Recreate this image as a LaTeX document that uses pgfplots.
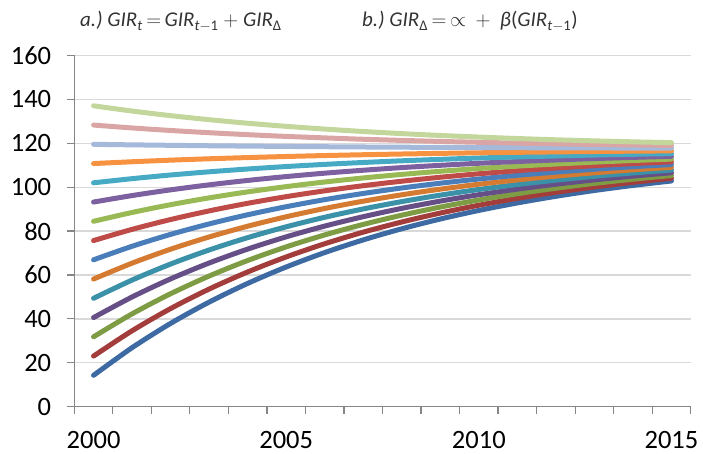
\documentclass[border=0pt]{standalone}
\usepackage{pgfplots}
\usepackage{pgfplotstable}
\pgfplotsset{compat=1.18}
\usepackage{fontspec}
\setmainfont{Carlito}

\definecolor{c1}{HTML}{3D6AA3}
\definecolor{c2}{HTML}{A33D3B}
\definecolor{c3}{HTML}{7E9C44}
\definecolor{c4}{HTML}{664E86}
\definecolor{c5}{HTML}{3A91A8}
\definecolor{c6}{HTML}{D57A31}
\definecolor{c7}{HTML}{4A7EBB}
\definecolor{c8}{HTML}{BE4B48}
\definecolor{c9}{HTML}{98B954}
\definecolor{c10}{HTML}{7D60A0}
\definecolor{c11}{HTML}{46AAC5}
\definecolor{c12}{HTML}{F69240}
\definecolor{c13}{HTML}{A5B9DA}
\definecolor{c14}{HTML}{D9A6A5}
\definecolor{c15}{HTML}{C3D69B}
\definecolor{gridc}{HTML}{D9D9D9}
\definecolor{axisc}{HTML}{868686}

\pgfplotstableread{
year s1 s2 s3 s4 s5 s6 s7 s8 s9 s10 s11 s12 s13 s14 s15
2000 14.30 23.07 31.84 40.61 49.38 58.15 66.92 75.69 84.46 93.23 102.00 110.77 119.54 128.31 137.08
2001 26.89 34.59 42.29 49.99 57.69 65.39 73.09 80.79 88.49 96.19 103.89 111.59 119.29 126.99 134.69
2002 37.95 44.71 51.47 58.23 64.99 71.75 78.51 85.27 92.03 98.79 105.56 112.32 119.08 125.84 132.60
2003 47.65 53.59 59.52 65.46 71.40 77.33 83.27 89.20 95.14 101.08 107.01 112.95 118.88 124.82 130.76
2004 56.17 61.38 66.60 71.81 77.02 82.23 87.44 92.66 97.87 103.08 108.29 113.50 118.72 123.93 129.14
2005 63.65 68.23 72.81 77.38 81.96 86.53 91.11 95.69 100.26 104.84 109.41 113.99 118.57 123.14 127.72
2006 70.22 74.24 78.26 82.28 86.30 90.31 94.33 98.35 102.37 106.39 110.40 114.42 118.44 122.46 126.48
2007 75.99 79.52 83.05 86.57 90.10 93.63 97.15 100.68 104.21 107.73 111.26 114.79 118.32 121.84 125.37
2008 81.06 84.15 87.25 90.35 93.44 96.54 99.64 102.73 105.83 108.93 112.03 115.12 118.22 121.32 124.41
2009 85.50 88.22 90.94 93.66 96.38 99.10 101.82 104.53 107.25 109.97 112.69 115.41 118.13 120.85 123.57
2010 89.41 91.79 94.18 96.57 98.96 101.35 103.73 106.12 108.51 110.90 113.29 115.67 118.06 120.45 122.84
2011 92.83 94.93 97.03 99.12 101.22 103.31 105.41 107.51 109.60 111.70 113.79 115.89 117.99 120.08 122.18
2012 95.84 97.68 99.52 101.36 103.20 105.04 106.88 108.72 110.56 112.40 114.24 116.08 117.92 119.76 121.60
2013 98.49 100.10 101.72 103.33 104.95 106.57 108.18 109.80 111.41 113.03 114.65 116.26 117.88 119.49 121.11
2014 100.80 102.22 103.64 105.06 106.48 107.90 109.32 110.74 112.16 113.58 114.99 116.41 117.83 119.25 120.67
2015 102.84 104.09 105.33 106.58 107.83 109.07 110.32 111.56 112.81 114.06 115.30 116.55 117.79 119.04 120.29
}\gir

\begin{document}
\begin{tikzpicture}
\useasboundingbox (0,0) rectangle (703bp,454bp);
\begin{axis}[
  at={(74.3bp,47.3bp)}, anchor=south west,
  scale only axis, width=616.4bp, height=351.2bp,
  xmin=1999.5, xmax=2015.5, ymin=0, ymax=160,
  axis x line*=bottom, axis y line*=left,
  axis line style={-, color=axisc, line width=1.2bp},
  tick style={color=axisc, line width=1.2bp},
  tick align=outside, major tick length=7bp,
  xtick={1999.5,2000.5,2001.5,2002.5,2003.5,2004.5,2005.5,2006.5,2007.5,2008.5,2009.5,2010.5,2011.5,2012.5,2013.5,2014.5,2015.5},
  xticklabels={},
  extra x ticks={2000,2005,2010,2015},
  extra x tick labels={2000,2005,2010,2015},
  extra x tick style={major tick length=0pt, xticklabel style={inner sep=0pt, anchor=north, yshift=-24bp}},
  ytick={0,20,...,160},
  ymajorgrids, grid style={color=gridc, line width=1.3bp},
  yticklabel style={inner sep=0pt, anchor=east, xshift=-16bp},
  /pgf/number format/assume math mode=true,
  tick label style={font=\fontsize{26.5bp}{30bp}\selectfont, text=black},
  every axis plot/.append style={line width=5bp, line cap=round, line join=round, mark=none, smooth},
  clip=false,
]
\addplot[c1] table[x=year,y=s1]{\gir};
\addplot[c2] table[x=year,y=s2]{\gir};
\addplot[c3] table[x=year,y=s3]{\gir};
\addplot[c4] table[x=year,y=s4]{\gir};
\addplot[c5] table[x=year,y=s5]{\gir};
\addplot[c6] table[x=year,y=s6]{\gir};
\addplot[c7] table[x=year,y=s7]{\gir};
\addplot[c8] table[x=year,y=s8]{\gir};
\addplot[c9] table[x=year,y=s9]{\gir};
\addplot[c10] table[x=year,y=s10]{\gir};
\addplot[c11] table[x=year,y=s11]{\gir};
\addplot[c12] table[x=year,y=s12]{\gir};
\addplot[c13] table[x=year,y=s13]{\gir};
\addplot[c14] table[x=year,y=s14]{\gir};
\addplot[c15] table[x=year,y=s15]{\gir};
\end{axis}
\node[anchor=base west, inner sep=0pt, text=black!80, font=\fontsize{21bp}{24bp}\selectfont] at (80bp,427bp)
  {\textit{a.)}\ \textit{GIR}\textsubscript{\textit{t}}\,$=$\,\textit{GIR}\textsubscript{\textit{t}$-$1}\ $+$\ \textit{GIR}\textsubscript{Δ}};
\node[anchor=base west, inner sep=0pt, text=black!80, font=\fontsize{21bp}{24bp}\selectfont] at (362bp,427bp)
  {\textit{b.)}\ \textit{GIR}\textsubscript{Δ}\,$=$\,$\propto$\ \ $+$\ \ \textit{β}(\textit{GIR}\textsubscript{\textit{t}$-$1})};
\end{tikzpicture}
\end{document}
